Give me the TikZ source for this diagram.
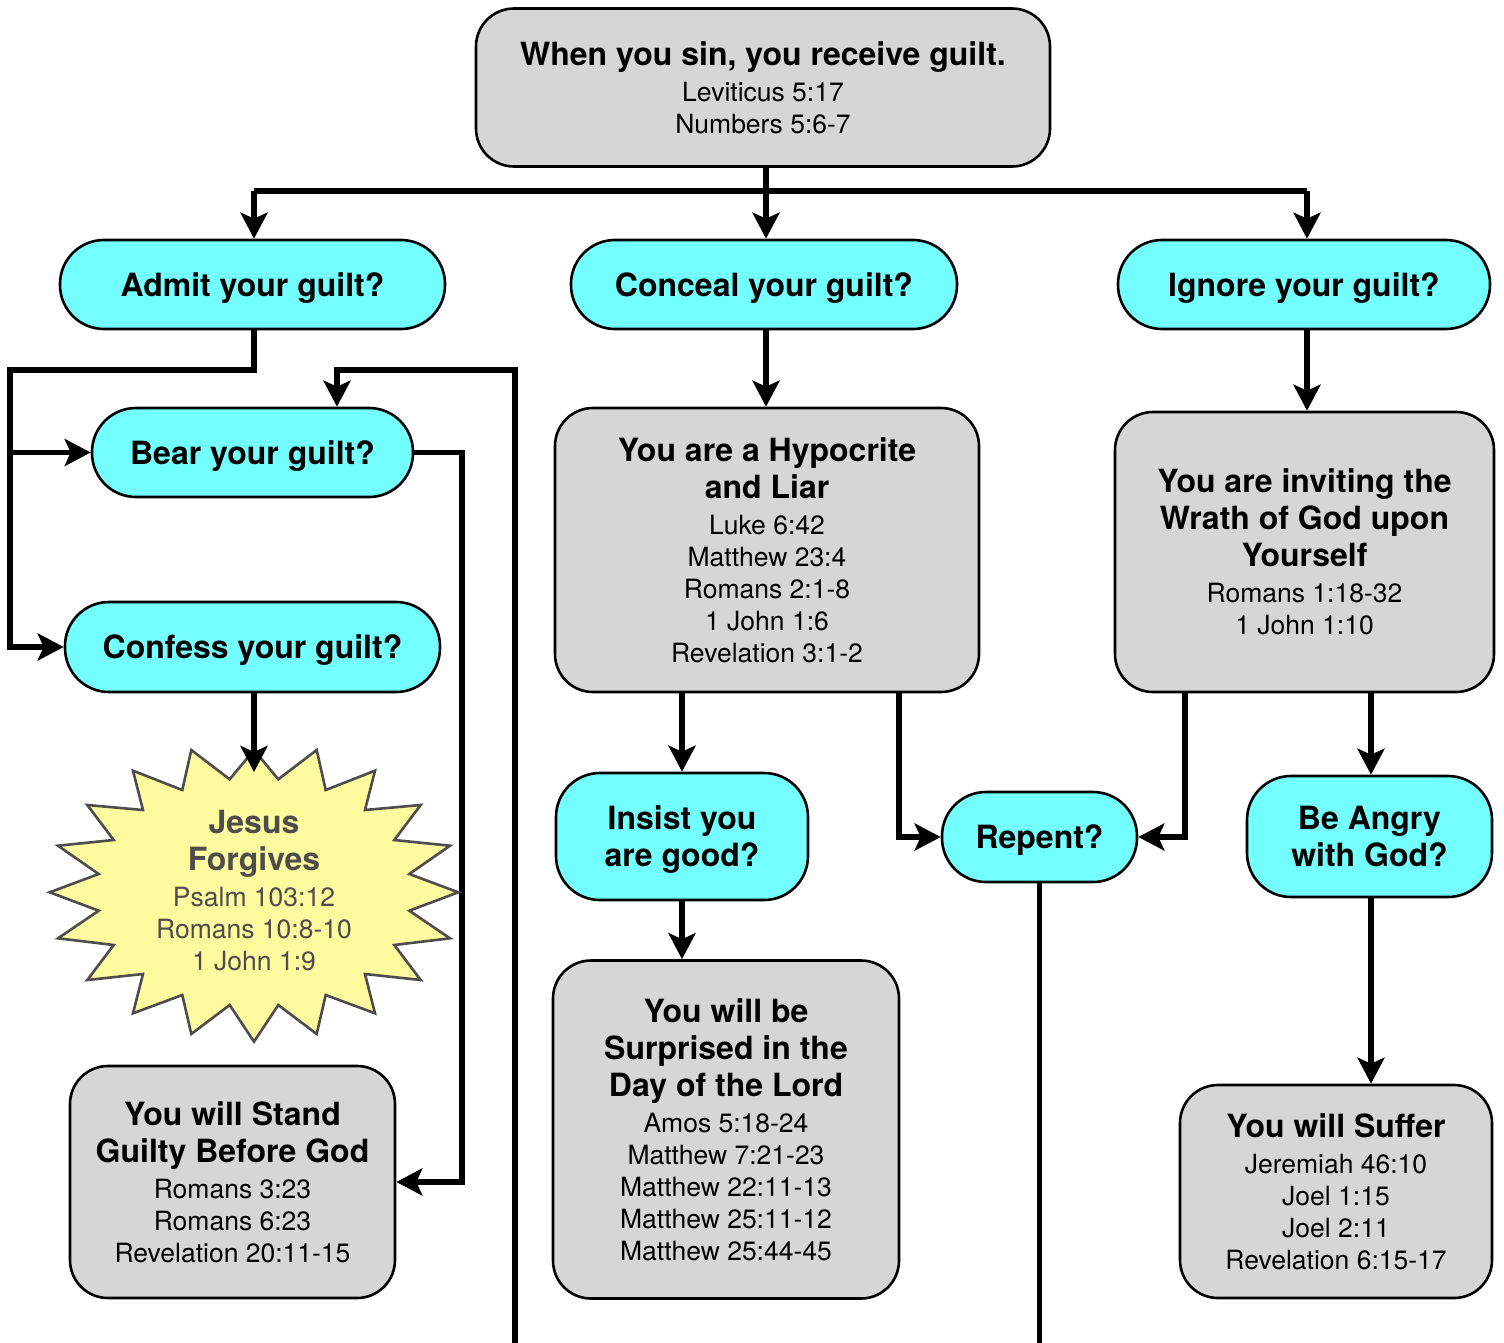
\documentclass[tikz,border=0pt]{standalone}
\usepackage{fontspec}
\setmainfont{TeX Gyre Heros}
\usetikzlibrary{arrows.meta}
\definecolor{pillcyan}{HTML}{74FFFF}
\definecolor{boxgray}{HTML}{D6D6D6}
\definecolor{staryellow}{HTML}{FFFA9E}
\definecolor{stargray}{HTML}{4D4D4D}
\newcommand{\hd}{\fontsize{32}{37}\selectfont\bfseries}
\newcommand{\rg}{\fontsize{26.5}{32}\selectfont}
\newcommand{\arw}{\draw[-{Stealth[length=26pt,width=27pt,inset=6pt]},line width=5.4pt]}
\newcommand{\wire}{\draw[line width=5.4pt]}

\begin{document}
\begin{tikzpicture}[x=1pt,y=-1pt,
    pill/.style={draw,line width=2.6pt,fill=pillcyan,rounded corners=44pt,
      inner sep=0pt,align=center,font=\hd,text depth=0pt},
    verse/.style={draw,line width=2.6pt,fill=boxgray,rounded corners=38pt,
      inner sep=0pt,align=center,font=\rg}]
  \useasboundingbox (0,0) rectangle (1504,1343);

  % top
  \node(sin) [verse,minimum width=574pt,minimum height=158pt] at (763,87.5)
    {{\hd When you sin, you receive guilt.}\\[4pt] Leviticus 5:17\\ Numbers 5:6-7};

  % questions
  \node(admit)   [pill,minimum width=385pt,minimum height=89pt] at (252.5,284.5) {Admit your guilt?};
  \node(conceal) [pill,minimum width=386pt,minimum height=89pt] at (764,284.5)   {Conceal your guilt?};
  \node(ignore)  [pill,minimum width=372pt,minimum height=89pt] at (1304,284.5)  {Ignore your guilt?};

  \coordinate(split)  at (766,191);
  \coordinate(ltrunk) at (254,191);
  \coordinate(rtrunk) at (1307,191);
  \arw (sin.south -| split) -- (conceal.north -| split);
  \wire (ltrunk) -- (rtrunk);
  \arw (ltrunk) -- (ltrunk |- admit.north);
  \arw (rtrunk) -- (rtrunk |- ignore.north);

  % admit
  \node(bear)    [pill,minimum width=321pt,minimum height=89pt] at (252.5,452.5) {Bear your guilt?};
  \node(confess) [pill,minimum width=375pt,minimum height=90pt] at (252.5,647)   {Confess your guilt?};
  \node(stand)   [verse,minimum width=325pt,minimum height=232pt] at (232.5,1182)
    {{\hd You will Stand}\\[5pt] {\hd Guilty Before God}\\[4pt] Romans 3:23\\ Romans 6:23\\ Revelation 20:11-15};

  \coordinate(lft) at (10,370);
  \arw (ltrunk |- admit.south) |- (lft) |- (confess.west);
  \arw (lft |- bear.west) -- (bear.west);

  \coordinate(inA)  at (515,1343);
  \coordinate(bend) at (337,370);
  \arw (inA) |- (bend) -- (bend |- bear.north);

  \coordinate(rgt) at (462,1182);
  \arw (bear.east) -| (rgt) -- (stand.east);

  % star
  \draw[line width=2.6pt,draw=stargray,fill=staryellow,line join=miter]
    (254,750) -- (278.3,779.3) -- (316.7,750) -- (325.7,790) -- (375,770.7)
    -- (365,810) -- (420.7,805) -- (394.3,840) -- (450,845.7) -- (409.3,874)
    -- (458.3,892.3) -- (409.3,910.7) -- (450,938.3) -- (394.3,945) -- (420.7,980)
    -- (365,974) -- (375,1013.3) -- (325.7,995) -- (316.7,1034) -- (278.3,1005)
    -- (254,1041.7) -- (229.7,1005) -- (191.3,1034) -- (182.3,995) -- (133,1013.3)
    -- (143,974) -- (87.3,980) -- (113.7,945) -- (58,938.3) -- (98.7,910.7)
    -- (49.7,892.3) -- (98.7,874) -- (58,845.7) -- (113.7,840) -- (87.3,805)
    -- (143,810) -- (133,770.7) -- (182.3,790) -- (191.3,750) -- (229.7,779.3) -- cycle;
  \node(forgive) [align=center,text=stargray,font=\rg,inner sep=0pt] at (254,891)
    {{\hd Jesus}\\[5pt] {\hd Forgives}\\[4pt] Psalm 103:12\\ Romans 10:8-10\\ 1 John 1:9};
  \coordinate(starTop) at (254,772);
  \arw (starTop |- confess.south) -- (starTop);

  % conceal
  \node(hypo) [verse,minimum width=424pt,minimum height=284pt] at (767,550)
    {{\hd You are a Hypocrite}\\[5pt] {\hd and Liar}\\[4pt] Luke 6:42\\ Matthew 23:4\\ Romans 2:1-8\\ 1 John 1:6\\ Revelation 3:1-2};
  \node(insist) [pill,minimum width=252pt,minimum height=127pt] at (682,836.5) {Insist you\\are good?};
  \node(surprised) [verse,minimum width=346pt,minimum height=338pt] at (726,1129.5)
    {{\hd You will be}\\[5pt] {\hd Surprised in the}\\[5pt] {\hd Day of the Lord}\\[4pt] Amos 5:18-24\\ Matthew 7:21-23\\ Matthew 22:11-13\\ Matthew 25:11-12\\ Matthew 25:44-45};
  \node(repent) [pill,minimum width=195pt,minimum height=90pt] at (1039.5,837) {Repent?};

  \arw (conceal.south -| split) -- (hypo.north -| split);
  \arw (insist.north |- hypo.south) -- (insist.north);
  \arw ([xshift=132pt]hypo.south) |- (repent.west);
  \arw (insist.south) -- (insist.south |- surprised.north);
  \coordinate(outR) at (1040,1343);
  \wire (repent.south) -- (repent.south |- outR);

  % ignore
  \node(wrath) [verse,minimum width=379pt,minimum height=280pt] at (1304.5,552)
    {{\hd You are inviting the}\\[5pt] {\hd Wrath of God upon}\\[5pt] {\hd Yourself}\\[4pt] Romans 1:18-32\\ 1 John 1:10};
  \node(angry) [pill,minimum width=245pt,minimum height=121pt] at (1369.5,836.5) {Be Angry\\with God?};
  \node(suffer) [verse,minimum width=312pt,minimum height=213pt] at (1336,1191.5)
    {{\hd You will Suffer}\\[4pt] Jeremiah 46:10\\ Joel 1:15\\ Joel 2:11\\ Revelation 6:15-17};

  \arw (rtrunk |- ignore.south) -- (rtrunk |- wrath.north);
  \arw ([xshift=-119.5pt]wrath.south) |- (repent.east);
  \arw ([xshift=1.5pt]angry.north |- wrath.south) -- ([xshift=1.5pt]angry.north);
  \arw ([xshift=1.5pt]angry.south) -- ([xshift=1.5pt]angry.south |- suffer.north);
\end{tikzpicture}
\end{document}
